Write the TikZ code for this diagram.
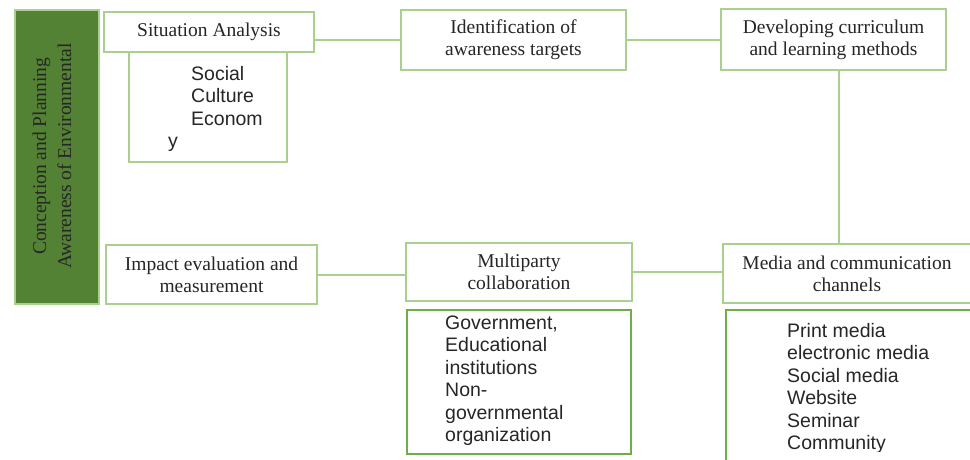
\documentclass[tikz,border=0pt]{standalone}
\usepackage{fontspec}
\setmainfont{Liberation Serif}
\setsansfont{Liberation Sans}
\definecolor{paleGreen}{HTML}{A9D08E}
\definecolor{deepGreen}{HTML}{70AD47}
\definecolor{barGreen}{HTML}{548235}
\definecolor{ink}{HTML}{262626}
\tikzset{
  step box/.style={draw=paleGreen, line width=2pt, fill=white, text=ink, align=center,
    inner sep=2pt, font=\fontsize{19.5}{22}\selectfont},
  list box/.style={draw=#1, line width=2.2pt},
  list text/.style={anchor=north west, inner sep=0pt, align=left, text=ink,
    font=\sffamily\fontsize{19.5}{22.5}\selectfont},
  link/.style={draw=paleGreen, line width=2pt}
}
\begin{document}
\begin{tikzpicture}[x=1pt,y=-1pt]
\clip (0,0) rectangle (970,459);

% side bar
\node[draw=paleGreen, line width=2pt, fill=barGreen, minimum width=84pt, minimum height=294pt] (side) at (57,157) {};
\node[rotate=90, text=ink, align=left, inner sep=0pt, font=\fontsize{19.5}{25}\selectfont] (sidetext) at (52,156)
  {\hspace*{14pt}Conception and Planning\\Awareness of Environmental};

% top row
\node[step box, minimum width=158pt, minimum height=110pt, list box=paleGreen] (socbox) at (208,107) {};
\node[step box, minimum width=210pt, minimum height=40pt] (sit) at (209,32) {Situation Analysis};
\node[step box, minimum width=225pt, minimum height=60pt] (ident) at (513.5,40) {Identification of\\awareness targets};
\node[step box, minimum width=225pt, minimum height=61pt] (devel) at (833.5,39.5) {Developing curriculum\\and learning methods};
\node[list text] (soctext) at (168,66) {\hspace*{23pt}Social\\\hspace*{23pt}Culture\\\hspace*{23pt}Econom\\y};

% bottom row
\node[step box, minimum width=211pt, minimum height=59pt] (impact) at (211.5,274.5) {Impact evaluation and\\measurement};
\node[step box, minimum width=226pt, minimum height=58pt] (multi) at (519,272) {Multiparty\\collaboration};
\node[step box, minimum width=248pt, minimum height=59pt] (media) at (847,273.5) {Media and communication\\channels};

\node[list box=deepGreen, minimum width=224pt, minimum height=144pt] (multibox) at (519,382) {};
\node[list box=deepGreen, minimum width=246pt, minimum height=170pt] (mediabox) at (849,395) {};
\node[list text] (multitext) at (445,315.5)
  {Government,\\Educational\\institutions\\Non-\\governmental\\organization};
\begin{scope}
\clip (700,300) rectangle (968,451);
\node[list text] (mediatext) at (787,323)
  {Print media\\electronic media\\Social media\\Website\\Seminar\\Community};
\end{scope}

% connectors
\draw[link] (sit.east |- ident.west) -- (ident.west);
\draw[link] (ident.east) -- (devel.west |- ident.east);
\draw[link] ([xshift=5.5pt]devel.south) -- ([xshift=5.5pt]devel.south |- media.north);
\draw[link] (impact.east) -- (multi.west |- impact.east);
\draw[link] (multi.east) -- (media.west |- multi.east);
\end{tikzpicture}
\end{document}
